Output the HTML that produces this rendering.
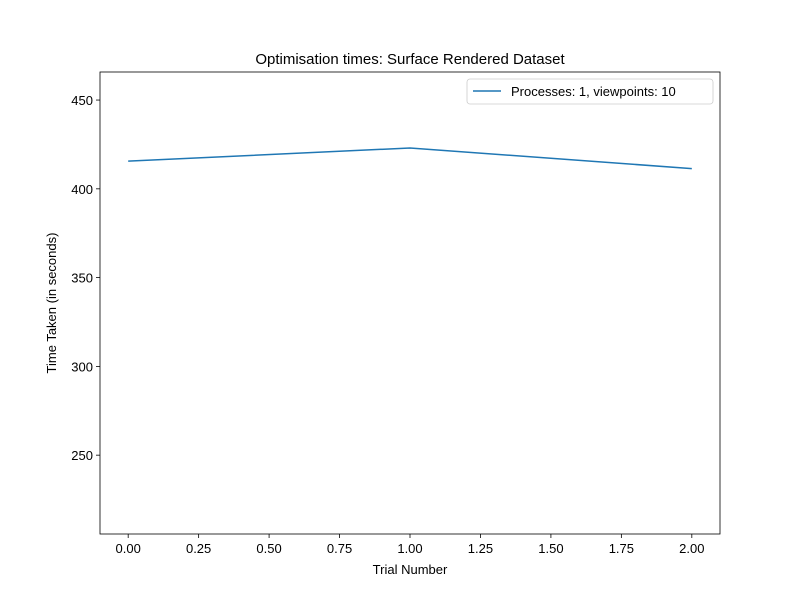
<!DOCTYPE html>
<html><head><meta charset="utf-8"><style>
body{margin:0;background:#fff;}
svg text{font-family:"Liberation Sans","DejaVu Sans",sans-serif;fill:#000;}
</style></head><body>
<svg id="chart" width="800" height="600" xmlns="http://www.w3.org/2000/svg">
<rect width="800" height="600" fill="#fff"/>
<text x="410" y="64" font-size="15" text-anchor="middle">Optimisation times: Surface Rendered Dataset</text>
<g id="axes"></g>
<text x="410" y="574" font-size="13" text-anchor="middle">Trial Number</text>
<text transform="translate(56,303) rotate(-90)" font-size="13" text-anchor="middle">Time Taken (in seconds)</text>
</svg>
<script>
const trials=[0,1,2];
const times=[415.6,423.0,411.4];
const xTicks=[0,0.25,0.5,0.75,1,1.25,1.5,1.75,2];
const xTickLabels=["0.00","0.25","0.50","0.75","1.00","1.25","1.50","1.75","2.00"];
const yTicks=[250,300,350,400,450];
const seriesLabel="Processes: 1, viewpoints: 10";
const L=100,R=720,T=72,B=534;
const xMin=-0.1,xMax=2.1,yMin=205.6,yMax=465.8;
const xs=v=>L+(v-xMin)/(xMax-xMin)*(R-L);
const ys=v=>B-(v-yMin)/(yMax-yMin)*(B-T);
const NS="http://www.w3.org/2000/svg";
const g=document.getElementById('axes');
function mk(t,a){const e=document.createElementNS(NS,t);for(const k in a)e.setAttribute(k,a[k]);g.appendChild(e);return e;}
xTicks.forEach((v,i)=>{
 const x=xs(v);
 const l=mk('line',{x1:x,x2:x,y1:B,y2:B+4,stroke:'#000','stroke-width':0.8});
 
 
 const t=mk('text',{x:x,y:B+19,'font-size':13,'text-anchor':'middle'});
 t.textContent=xTickLabels[i];
 
 
});
yTicks.forEach(v=>{
 const y=ys(v);
 const l=mk('line',{x1:L-4,x2:L,y1:y,y2:y,stroke:'#000','stroke-width':0.8});
 
 
 const t=mk('text',{x:L-7,y:y+5,'font-size':13,'text-anchor':'end'});
 t.textContent=v;
 
 
});
const p=mk('polyline',{points:trials.map((v,i)=>xs(v)+','+ys(times[i])).join(' '),fill:'none',stroke:'#1f77b4','stroke-width':1.5});


const f=mk('rect',{x:L,y:T,width:R-L,height:B-T,fill:'none',stroke:'#000','stroke-width':0.8});


const lb=mk('rect',{x:467,y:79,width:246,height:25,rx:3,fill:'#fff',stroke:'#ccc','stroke-width':0.8});


const ll=mk('line',{x1:473,x2:501,y1:91,y2:91,stroke:'#1f77b4','stroke-width':1.5});


const lt=mk('text',{x:511,y:96,'font-size':13});
lt.textContent=seriesLabel;


</script>
</body></html>
